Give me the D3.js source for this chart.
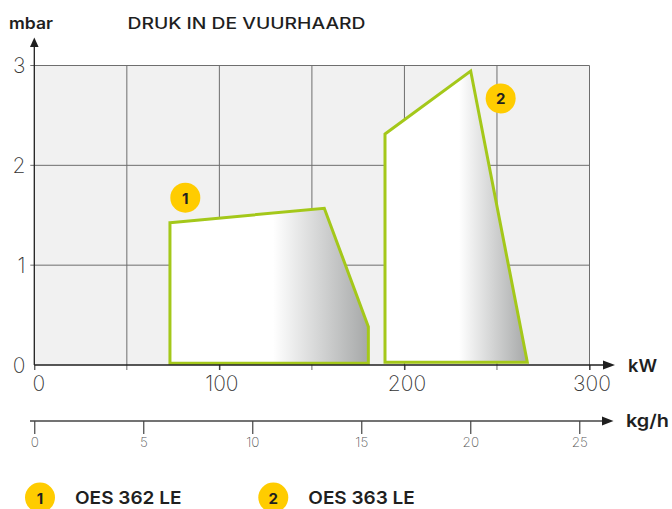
<!DOCTYPE html>
<html>
<head>
<meta charset="utf-8">
<script src="https://cdn.jsdelivr.net/npm/d3@7"></script>
<style>
    html, body { margin: 0; padding: 0; background: #fff; }
    svg { display: block; font-family: Inter, "Noto Sans", sans-serif; }
</style>
</head>
<body>
<div id="chart"></div>
<script>
// ticks / labels
const kwTicks = [0, 100, 200, 300];
const kwGrid = [0, 50, 100, 150, 200, 250, 300];
const mbarTicks = [0, 1, 2, 3];
const kghTicks = [0, 5, 10, 15, 20, 25];

// series: outline of each working range [kW, mbar]
const oes362 = [[73.3, 1.425], [156.7, 1.57], [180.5, 0.384], [180.5, 0.017], [73.3, 0.017]];
const oes363 = [[189.5, 2.314], [235.8, 2.945], [266.4, 0.027], [189.5, 0.027]];
const seriesNames = ["OES 362 LE", "OES 363 LE"];
const badgeNumbers = ["1", "2"];
// badge positions inside the chart [kW, mbar]
const badgeSpots = [[81.6, 1.676], [252, 2.67]];

const width = 672, height = 509;
const green = "#a4c81a", yellow = "#ffcc00", dark = "#1f1f1f", gridColor = "#6e6e6e";

const svg = d3.select("#chart").append("svg")
    .attr("width", width)
    .attr("height", height);

const x = d3.scaleLinear().domain([0, 300]).range([34.3, 589.5]);
const y = d3.scaleLinear().domain([0, 3]).range([365, 65.5]);
const xKg = d3.scaleLinear().domain([0, 25]).range([34.3, 579.3]);

const defs = svg.append("defs");
const grad = defs.append("linearGradient")
    .attr("id", "shade")
    .attr("x1", 0).attr("x2", 1).attr("y1", 0).attr("y2", 0);
grad.append("stop").attr("offset", 0).attr("stop-color", "#ffffff");
grad.append("stop").attr("offset", 0.52).attr("stop-color", "#ffffff");
grad.append("stop").attr("offset", 1).attr("stop-color", "#a6a8a8");

// plot background
svg.append("rect")
    .attr("x", x(0)).attr("y", y(3))
    .attr("width", x(300) - x(0)).attr("height", y(0) - y(3))
    .attr("fill", "#f1f1f1");

// grid
svg.append("g").selectAll("line").data(kwGrid.slice(1)).join("line")
    .attr("x1", d => x(d)).attr("x2", d => x(d))
    .attr("y1", y(3)).attr("y2", y(0) + 5)
    .attr("stroke", gridColor).attr("stroke-width", 1);
svg.append("g").selectAll("line").data(mbarTicks.slice(1)).join("line")
    .attr("x1", x(0) - 4).attr("x2", x(300))
    .attr("y1", d => y(d)).attr("y2", d => y(d))
    .attr("stroke", gridColor).attr("stroke-width", 1);

// ranges
const line = d3.line().x(d => x(d[0])).y(d => y(d[1]));
svg.append("g").selectAll("path").data([oes362, oes363]).join("path")
    .attr("d", d => line(d) + "Z")
    .attr("fill", "url(#shade)")
    .attr("stroke", green)
    .attr("stroke-width", 3)
    .attr("stroke-linejoin", "miter");

const drawBadge = (g, cx, cy, label) => {
    g.append("circle").attr("cx", cx).attr("cy", cy).attr("r", 15).attr("fill", yellow);
    g.append("text").attr("x", cx).attr("y", cy + 0.5)
        .attr("text-anchor", "middle").attr("dominant-baseline", "central")
        .attr("font-size", 15).attr("font-weight", 700).attr("fill", dark)
        .text(label);
};
badgeSpots.forEach((p, i) => drawBadge(svg.append("g"), x(p[0]), y(p[1]), badgeNumbers[i]));

// y axis
svg.append("line")
    .attr("x1", x(0)).attr("x2", x(0)).attr("y1", y(0)).attr("y2", 44)
    .attr("stroke", dark).attr("stroke-width", 1.3);
svg.append("path").attr("d", "M34.3,37.5L30,47L38.6,47Z").attr("fill", dark);
svg.append("g").selectAll("text").data(mbarTicks).join("text")
    .attr("x", 25.5).attr("y", d => y(d))
    .attr("text-anchor", "end").attr("dominant-baseline", "central")
    .attr("font-size", 21).attr("font-weight", 200).attr("fill", "#333")
    .text(d => d);

// kW axis
const kwAxis = d3.axisBottom(x).tickValues(kwTicks).tickSize(5).tickPadding(6).tickSizeOuter(0);
const gKw = svg.append("g").attr("transform", `translate(0,${y(0)})`).call(kwAxis);
gKw.select(".domain").remove();
gKw.selectAll(".tick line").attr("stroke", dark).attr("stroke-width", 1);
gKw.selectAll(".tick text")
    .attr("font-family", "Inter, sans-serif").attr("font-size", 21).attr("font-weight", 200)
    .attr("fill", "#333").attr("dx", d => d === 0 ? 4 : 2);
svg.append("line")
    .attr("x1", x(0)).attr("x2", 606).attr("y1", y(0)).attr("y2", y(0))
    .attr("stroke", dark).attr("stroke-width", 1.3);
svg.append("path").attr("d", `M615,${y(0)}L603,${y(0) - 4.5}L603,${y(0) + 4.5}Z`).attr("fill", dark);

// kg/h axis
const kgY = 421;
const kgAxis = d3.axisBottom(xKg).tickValues(kghTicks).tickSize(13).tickPadding(3).tickSizeOuter(0);
const gKg = svg.append("g").attr("transform", `translate(0,${kgY})`).call(kgAxis);
gKg.select(".domain").remove();
gKg.selectAll(".tick line").attr("stroke", dark).attr("stroke-width", 1);
gKg.selectAll(".tick text")
    .attr("font-family", "Inter, sans-serif").attr("font-size", 13.5).attr("font-weight", 200)
    .attr("fill", "#555");
svg.append("line")
    .attr("x1", 30).attr("x2", 605).attr("y1", kgY).attr("y2", kgY)
    .attr("stroke", "#444").attr("stroke-width", 1.3);
svg.append("path").attr("d", `M613.5,${kgY}L602,${kgY - 4.5}L602,${kgY + 4.5}Z`).attr("fill", dark);

// titles and units
const label = (tx, ty, txt, size, len, weight) => {
    const t = svg.append("text").attr("x", tx).attr("y", ty)
        .attr("font-size", size).attr("font-weight", weight || 600).attr("fill", dark).text(txt);
    if (len) t.attr("textLength", len).attr("lengthAdjust", "spacingAndGlyphs");
    return t;
};
label(9, 29, "mbar", 15.5, 44);
label(127.5, 28.5, "DRUK IN DE VUURHAARD", 15.5, 238, 500);
label(628, 372, "kW", 17.5, 29);
label(626, 427, "kg/h", 17.5, 43);

// legend
const legendX = [40, 273.3];
seriesNames.forEach((name, i) => {
    drawBadge(svg.append("g"), legendX[i], 497.5, badgeNumbers[i]);
    label(legendX[i] + 35, 504, name, 17.5, 106.5);
});
</script>
</body>
</html>
